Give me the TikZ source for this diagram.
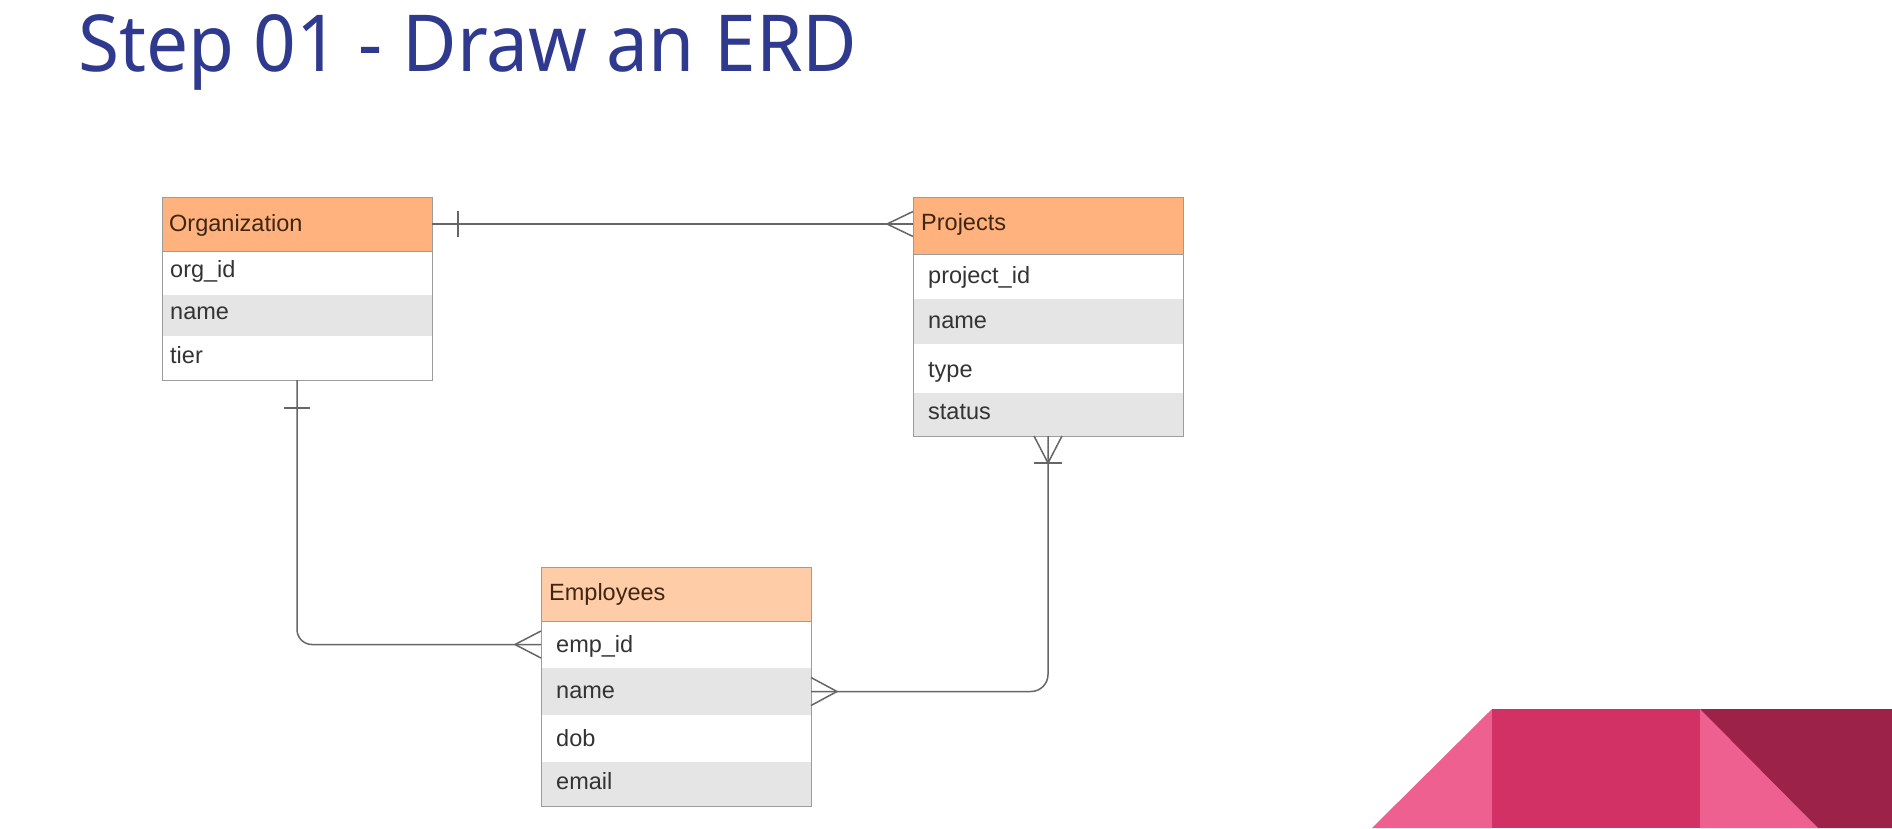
\documentclass[tikz,border=0pt]{standalone}
\usepackage{fontspec}
\setmainfont{Liberation Sans}
\newfontfamily\titlefont{Noto Sans}
\usetikzlibrary{calc}
\definecolor{titleblue}{HTML}{2F3A8F}
\definecolor{boxgray}{HTML}{9C9C9C}
\definecolor{hdrorange}{HTML}{FFB27E}
\definecolor{hdrlight}{HTML}{FFCCA8}
\definecolor{rowgray}{HTML}{E5E5E5}
\definecolor{txtgray}{HTML}{333333}
\definecolor{hdrtext}{HTML}{3E2612}
\definecolor{linegray}{HTML}{666666}
\definecolor{pinkL}{HTML}{EE6090}
\definecolor{pinkM}{HTML}{D13164}
\definecolor{maroon}{HTML}{9D2249}
\begin{document}
\begin{tikzpicture}[x=1pt,y=-1pt,
  hdr/.style={draw=boxgray, line width=1pt, fill=hdrorange, minimum width=270pt, anchor=north west, inner sep=0pt, outer sep=0pt},
  rowbox/.style={fill=white, minimum width=270pt, anchor=north west, inner sep=0pt, outer sep=0pt},
  grayrow/.style={rowbox, fill=rowgray},
  outline/.style={draw=boxgray, line width=1pt, minimum width=270pt, anchor=north west, inner sep=0pt, outer sep=0pt},
  lbl/.style={anchor=base west, inner sep=0pt, text=txtgray, font=\fontsize{23.5}{28}\selectfont},
  hlbl/.style={lbl, text=hdrtext},
  conn/.style={draw=linegray, line width=1.5pt},
]
\useasboundingbox (0,0) rectangle (1892,828);

% title
\node[anchor=base west, inner sep=0pt, text=titleblue] (title) at (78,71)
  {\resizebox{779pt}{57pt}{\titlefont\fontsize{80}{96}\selectfont Step 01 - Draw an ERD}};

% decorative shapes
\fill[pinkL] (1372,828) -- (1492,709) -- (1492,828) -- cycle;
\fill[pinkM] (1492,709) rectangle (1700,828);
\fill[pinkL] (1700,709) -- (1818,828) -- (1700,828) -- cycle;
\fill[maroon] (1700,709) -- (1892,709) -- (1892,828) -- (1818,828) -- cycle;

% Organization
\node[rowbox, minimum height=44pt] (orgR1) at (162,251) {};
\node[grayrow, minimum height=41pt] (orgR2) at (162,295) {};
\node[rowbox, minimum height=44pt] (orgR3) at (162,336) {};
\node[outline, minimum height=183pt] (orgBox) at (162,197) {};
\node[hdr, minimum height=54pt] (orgH) at (162,197) {};
\node[hlbl] (orgT) at (169,231) {Organization};
\node[lbl] (orgA1) at (170,277) {org\_id};
\node[lbl] (orgA2) at (170,319) {name};
\node[lbl] (orgA3) at (170,363) {tier};

% Projects
\node[rowbox, minimum height=45pt] (prjR1) at (913,254) {};
\node[grayrow, minimum height=45pt] (prjR2) at (913,299) {};
\node[rowbox, minimum height=49pt] (prjR3) at (913,344) {};
\node[grayrow, minimum height=43pt] (prjR4) at (913,393) {};
\node[outline, minimum height=239pt] (prjBox) at (913,197) {};
\node[hdr, minimum height=57pt] (prjH) at (913,197) {};
\node[hlbl] (prjT) at (921,230) {Projects};
\node[lbl] (prjA1) at (928,283) {project\_id};
\node[lbl] (prjA2) at (928,328) {name};
\node[lbl] (prjA3) at (928,377) {type};
\node[lbl] (prjA4) at (928,419) {status};

% Employees
\node[rowbox, minimum height=47pt] (empR1) at (541,621) {};
\node[grayrow, minimum height=47pt] (empR2) at (541,668) {};
\node[rowbox, minimum height=47pt] (empR3) at (541,715) {};
\node[grayrow, minimum height=44pt] (empR4) at (541,762) {};
\node[outline, minimum height=239pt] (empBox) at (541,567) {};
\node[hdr, fill=hdrlight, minimum height=54pt] (empH) at (541,567) {};
\node[hlbl] (empT) at (549,600) {Employees};
\node[lbl] (empA1) at (556,652) {emp\_id};
\node[lbl] (empA2) at (556,698) {name};
\node[lbl] (empA3) at (556,746) {dob};
\node[lbl] (empA4) at (556,789) {email};

% Organization -- Projects (one to many)
\coordinate (pL) at (orgH.east -| prjBox.west);
\draw[conn] (orgH.east) -- (pL);
\draw[conn] ($(orgH.east)+(26,-13)$) -- ($(orgH.east)+(26,13)$);
\draw[conn] ($(pL)+(0,-12.5)$) -- ($(pL)+(-26,0)$) -- ($(pL)+(0,12.5)$);

% Organization -- Employees (one to many)
\coordinate (eL) at (empR1.west);
\draw[conn, rounded corners=15pt] (orgBox.south) |- (eL);
\draw[conn] ($(orgBox.south)+(-13,28)$) -- ($(orgBox.south)+(13,28)$);
\draw[conn] ($(eL)+(0,-13.5)$) -- ($(eL)+(-26,0)$) -- ($(eL)+(0,13.5)$);

% Employees -- Projects (many to one-or-many)
\coordinate (eR) at (empR2.east);
\draw[conn, rounded corners=17pt] (eR) -| (prjBox.south);
\draw[conn] ($(eR)+(0,-14)$) -- ($(eR)+(26,0)$) -- ($(eR)+(0,14)$);
\draw[conn] ($(prjBox.south)+(-14,0)$) -- ($(prjBox.south)+(0,27)$) -- ($(prjBox.south)+(14,0)$);
\draw[conn] ($(prjBox.south)+(-14,27)$) -- ($(prjBox.south)+(14,27)$);
\end{tikzpicture}
\end{document}
